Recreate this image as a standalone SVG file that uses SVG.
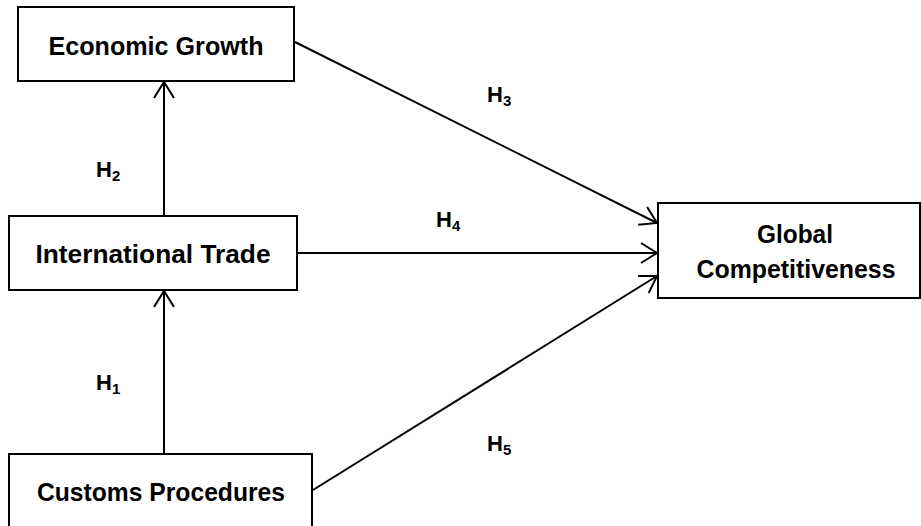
<svg xmlns="http://www.w3.org/2000/svg" width="921" height="526" viewBox="0 0 921 526">
<style>
.box{fill:#fff;stroke:#000;stroke-width:2}
.lbl{font-family:"Liberation Sans",Arial,sans-serif;font-weight:bold;font-size:25px;fill:#000;text-anchor:middle}
.h{font-family:"Liberation Sans",Arial,sans-serif;font-weight:bold;font-size:22px;fill:#000}
.sub{font-size:15px}
.edge{stroke:#000;stroke-width:2;fill:none;marker-end:url(#arr)}
</style>
<defs>
<marker id="arr" markerUnits="userSpaceOnUse" markerWidth="20" markerHeight="24" refX="17" refY="11" orient="auto" viewBox="0 0 20 24">
<path d="M1 1 L17 11 L1 21" fill="none" stroke="#000" stroke-width="2"/>
</marker>
</defs>
<rect width="921" height="526" fill="#fff"/>
<g id="connectors">
<line class="edge" x1="164" y1="216" x2="164" y2="82"/>
<line class="edge" x1="164" y1="454" x2="164" y2="291"/>
<line class="edge" x1="295" y1="42" x2="657" y2="223"/>
<line class="edge" x1="297" y1="253" x2="657" y2="253"/>
<line class="edge" x1="313" y1="490" x2="657" y2="276"/>
</g>
<g id="economic-growth">
<rect class="box" x="18" y="7" width="276" height="74"/>
<text class="lbl" x="156" y="55" textLength="215" lengthAdjust="spacingAndGlyphs">Economic Growth</text>
</g>
<g id="international-trade">
<rect class="box" x="9" y="216" width="288" height="74"/>
<text class="lbl" x="153" y="263" textLength="235" lengthAdjust="spacingAndGlyphs">International Trade</text>
</g>
<g id="customs-procedures">
<rect class="box" x="9" y="454" width="303" height="80"/>
<text class="lbl" x="161" y="501" textLength="248" lengthAdjust="spacingAndGlyphs">Customs Procedures</text>
</g>
<g id="global-competitiveness">
<rect class="box" x="658" y="203" width="262" height="95"/>
<text class="lbl" x="795" y="243" textLength="76" lengthAdjust="spacingAndGlyphs">Global</text>
<text class="lbl" x="796" y="278" textLength="199" lengthAdjust="spacingAndGlyphs">Competitiveness</text>
</g>
<g id="labels">
<text class="h" x="96" y="177">H<tspan class="sub" dy="4">2</tspan></text>
<text class="h" x="96" y="390">H<tspan class="sub" dy="4">1</tspan></text>
<text class="h" x="487" y="102">H<tspan class="sub" dy="4">3</tspan></text>
<text class="h" x="436" y="227">H<tspan class="sub" dy="4">4</tspan></text>
<text class="h" x="487" y="451">H<tspan class="sub" dy="4">5</tspan></text>
</g>
</svg>
